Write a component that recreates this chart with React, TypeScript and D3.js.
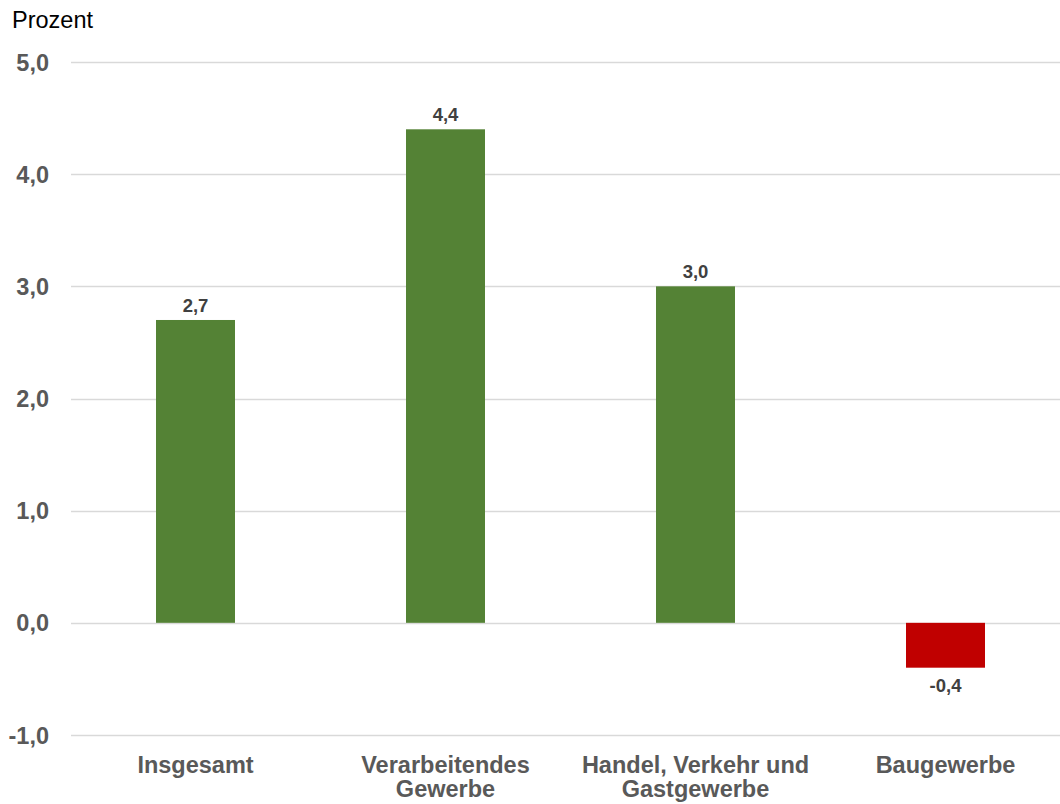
import React, { useEffect, useRef } from "react";
import * as d3 from "d3";

const categories = ["Insgesamt", "Verarbeitendes Gewerbe", "Handel, Verkehr und Gastgewerbe", "Baugewerbe"];
const categoryLines = [["Insgesamt"], ["Verarbeitendes", "Gewerbe"], ["Handel, Verkehr und", "Gastgewerbe"], ["Baugewerbe"]];
const values = [2.7, 4.4, 3.0, -0.4];
const yTicks = [-1, 0, 1, 2, 3, 4, 5];
const yLabel = "Prozent";

const W = 1060;
const H = 804;
const FONT = "'Liberation Sans', Arial, sans-serif";

export default function App() {
  const ref = useRef<SVGSVGElement>(null);
  useEffect(() => {
    document.body.style.margin = "0";
    const svg = d3.select(ref.current);
    svg.selectAll("*").remove();

    const y = d3.scaleLinear().domain([-1, 5]).range([735, 62]);
    const x = d3
      .scaleBand<string>()
      .domain(categories)
      .range([70.5, 1070.5])
      .paddingInner(0.684)
      .paddingOuter(0.342);

    const fmt = (v: number) => d3.format(".1f")(v).replace(".", ",").replace("−", "-");

    // gridlines
    svg
      .append("g")
      .selectAll("line")
      .data(yTicks)
      .join("line")
      .attr("x1", 71)
      .attr("x2", W)
      .attr("y1", (d) => Math.round(y(d)) + 0.5)
      .attr("y2", (d) => Math.round(y(d)) + 0.5)
      .attr("stroke", "#d9d9d9")
      .attr("stroke-width", 1.5);

    // y tick labels
    svg
      .append("g")
      .selectAll("text")
      .data(yTicks)
      .join("text")
      .attr("x", 49)
      .attr("y", (d) => y(d) + 8.5)
      .attr("text-anchor", "end")
      .attr("font-family", FONT)
      .attr("font-weight", "bold")
      .attr("font-size", 23.5)
      .attr("fill", "#595959")
      .text((d) => fmt(d));

    // y label
    svg
      .append("text")
      .attr("x", 12)
      .attr("y", 28)
      .attr("font-family", FONT)
      .attr("font-size", 23.5)
      .attr("fill", "#000")
      .text(yLabel);

    // bars
    svg
      .append("g")
      .selectAll("rect")
      .data(values)
      .join("rect")
      .attr("x", (_d, i) => x(categories[i])!)
      .attr("width", x.bandwidth())
      .attr("y", (d) => y(Math.max(0, d)))
      .attr("height", (d) => Math.abs(y(d) - y(0)))
      .attr("fill", (d) => (d >= 0 ? "#548235" : "#c00000"));

    // value labels
    svg
      .append("g")
      .selectAll("text")
      .data(values)
      .join("text")
      .attr("x", (_d, i) => x(categories[i])! + x.bandwidth() / 2)
      .attr("y", (d) => (d >= 0 ? y(d) - 8 : y(d) + 24))
      .attr("text-anchor", "middle")
      .attr("font-family", FONT)
      .attr("font-weight", "bold")
      .attr("font-size", 18.5)
      .attr("fill", "#404040")
      .text((d) => fmt(d));

    // category labels
    const cg = svg
      .append("g")
      .selectAll("text")
      .data(categoryLines)
      .join("text")
      .attr("text-anchor", "middle")
      .attr("font-family", FONT)
      .attr("font-weight", "bold")
      .attr("font-size", 23.5)
      .attr("fill", "#595959");
    cg.each(function (lines, i) {
      const t = d3.select(this);
      const cx = x(categories[i])! + x.bandwidth() / 2;
      lines.forEach((ln, j) => {
        t.append("tspan")
          .attr("x", cx)
          .attr("y", 773 + j * 24)
          .text(ln);
      });
    });
  }, []);

  return <svg ref={ref} width={W} height={H} style={{ display: "block" }} />;
}
